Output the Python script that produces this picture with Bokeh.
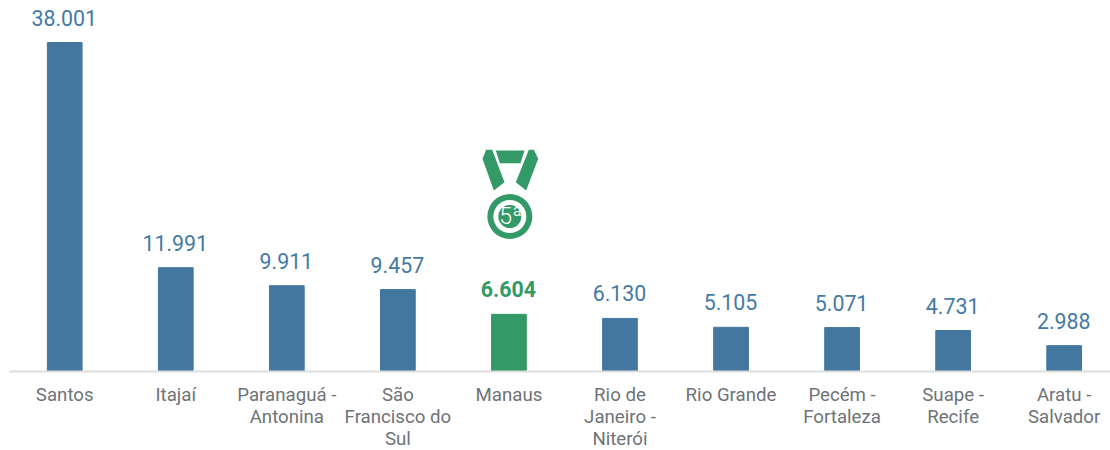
from bokeh.plotting import figure
from bokeh.models import Range1d, FixedTicker, LinearAxis, ColumnDataSource
from bokeh.core.properties import value
from bokeh.embed import file_html
from bokeh.resources import INLINE

categories = ["Santos", "Itajaí", "Paranaguá -\nAntonina", "São\nFrancisco do\nSul", "Manaus",
              "Rio de\nJaneiro -\nNiterói", "Rio Grande", "Pecém -\nFortaleza", "Suape -\nRecife", "Aratu -\nSalvador"]
values = [38001, 11991, 9911, 9457, 6604, 6130, 5105, 5071, 4731, 2988]
labels = ["38.001", "11.991", "9.911", "9.457", "6.604", "6.130", "5.105", "5.071", "4.731", "2.988"]
highlight = "Manaus"
BLUE, GREEN = "#43779f", "#339966"

W, H = 1110, 450
PX_X = 111.05              # pixels per category
PX_Y = 329 / 38001         # pixels per value unit
X0, Y0 = 8.7, 371          # pixel position of the axis origin


def dx(px):
    return (px - X0) / PX_X


def dy(py):
    return (Y0 - py) / PX_Y


p = figure(width=W, height=H, output_backend="svg", toolbar_location=None,
           x_range=Range1d(dx(0), dx(W)), y_range=Range1d(dy(H), dy(0)),
           min_border=0, min_border_left=0, min_border_right=0, min_border_top=0, min_border_bottom=0,
           outline_line_color=None, x_axis_location=None, y_axis_location=None)
p.grid.visible = False

xs = [i + 0.5 for i in range(len(categories))]
colors = [GREEN if c == highlight else BLUE for c in categories]
src = ColumnDataSource(dict(x=xs, v=values, l=labels, c=colors))
p.vbar(x="x", top="v", bottom=0, width=34.7 / PX_X, color="c", source=src)

axis = LinearAxis(ticker=FixedTicker(ticks=xs),
                  major_label_overrides={x: c for x, c in zip(xs, categories)},
                  fixed_location=0, bounds=(0, 10),
                  axis_line_color="#dddddd", axis_line_width=2,
                  major_tick_line_color=None, minor_tick_line_color=None,
                  major_label_text_color="#6e7378", major_label_text_font="Roboto",
                  major_label_text_font_size="18.67px", major_label_standoff=6,
                  major_label_text_line_height=1.02)
p.add_layout(axis, "below")

for hl in (False, True):
    idx = [i for i, c in enumerate(categories) if (c == highlight) == hl]
    p.text([xs[i] for i in idx], [values[i] for i in idx], text=[labels[i] for i in idx],
           y_offset=-25, x_offset=-0.5, text_align="center", text_baseline="middle",
           text_font=value("Roboto"), text_font_size="21.33px",
           text_font_style="bold" if hl else "normal",
           text_color=GREEN if hl else "#447aa3")

# medal icon above the highlighted bar (zoomed-crop coordinates of the icon)
mx = lambda z: dx(440 + z / 3)
my = lambda z: dy(130 + z / 3)
ribbons = [
    [(137, 58), (155, 58), (192, 155), (160, 180), (126, 85)],
    [(265, 58), (280, 58), (293, 85), (257, 180), (226, 155)],
    [(166, 60), (252, 60), (240, 98), (178, 98)],
]
p.patches([[mx(a) for a, _ in r] for r in ribbons], [[my(b) for _, b in r] for r in ribbons],
          color=GREEN, line_width=0)
cx, cy = mx(208), my(258)
for size, col in ((45, GREEN), (33, "#ffffff"), (23, GREEN)):
    p.scatter([cx], [cy], marker="circle", size=size, color=col, line_width=0)
p.text([cx], [cy], text=["5ª"], x_offset=1, text_align="center", text_baseline="middle",
       text_font=value("Roboto Light"), text_font_size="23px", text_color="#ffffff")

open("out.html", "w").write(file_html(p, INLINE))
